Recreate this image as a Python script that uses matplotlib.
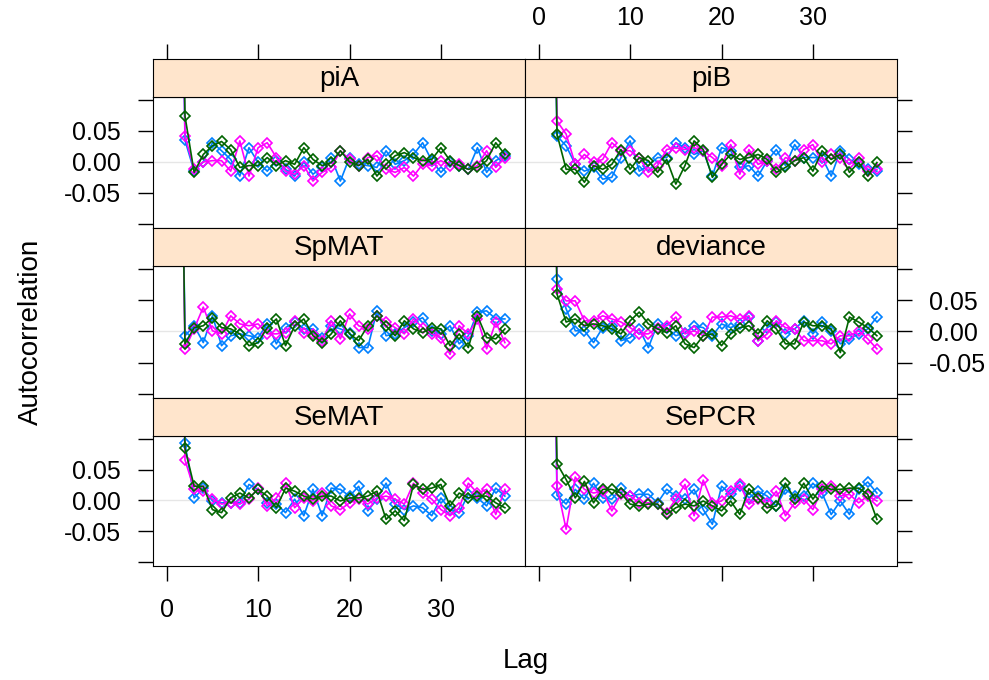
import matplotlib
matplotlib.use("Agg")
import matplotlib.pyplot as plt

plt.rcParams['font.family'] = ['Liberation Sans', 'DejaVu Sans']

# lag positions; the first lag is the lag-0 autocorrelation (1.0), off the panel
lags = list(range(1, 38))
acf_lag0 = 1.0

params = ['piA', 'piB', 'SpMAT', 'deviance', 'SeMAT', 'SePCR']
chain_colors = ['#0080ff', '#ff00ff', '#006400']

piA_blue = [0.035, -0.015, 0.0, 0.031, 0.018, 0.004, -0.023, 0.023, -0.001, -0.015, 0.002, -0.012,
            -0.023, 0.0, -0.02, -0.009, 0.007, -0.031, 0.007, -0.004, -0.006, -0.009, 0.018, -0.004,
            0.002, 0.012, 0.031, 0.002, -0.017, -0.001, -0.006, -0.012, 0.023, -0.017, 0.002, 0.01]
piA_magenta = [0.042, -0.012, 0.0, 0.002, 0.002, -0.015, 0.034, -0.023, 0.023, 0.031, 0.007, -0.015,
               -0.02, -0.006, -0.031, -0.017, -0.009, 0.018, 0.004, -0.006, 0.007, 0.01, -0.012, -0.017,
               -0.009, -0.023, -0.004, -0.006, 0.002, -0.006, -0.004, -0.012, -0.006, 0.018, -0.009, 0.007]
piA_green = [0.074, -0.017, 0.012, 0.026, 0.033, 0.02, -0.009, -0.006, -0.006, 0.007, -0.006, 0.002,
             -0.004, 0.023, 0.004, -0.006, -0.001, 0.018, 0.0, -0.006, 0.004, -0.023, -0.004, 0.01,
             0.015, 0.007, 0.002, 0.004, 0.023, 0.002, -0.006, -0.012, -0.009, 0.002, 0.031, 0.012]

piB_blue = [0.042, 0.026, -0.004, -0.015, -0.009, -0.028, -0.025, 0.007, 0.034, -0.015, -0.006, 0.007,
            0.007, 0.031, 0.023, 0.012, 0.018, -0.023, 0.023, 0.018, -0.009, -0.006, -0.023, 0.002,
            0.02, -0.006, 0.028, 0.007, 0.007, 0.007, -0.023, 0.018, 0.004, -0.004, -0.012, -0.015]
piB_magenta = [0.066, 0.045, -0.004, 0.012, -0.001, 0.004, 0.031, 0.018, 0.018, 0.007, -0.017, -0.006,
               0.02, 0.023, 0.02, 0.023, 0.018, 0.007, -0.006, 0.028, -0.02, 0.02, -0.004, 0.002,
               -0.012, 0.007, 0.002, 0.02, 0.028, -0.001, 0.012, 0.007, -0.004, 0.007, -0.015, -0.012]
piB_green = [0.045, -0.012, -0.012, -0.033, -0.006, -0.012, -0.004, 0.02, -0.012, 0.007, 0.002, -0.017,
             0.004, -0.036, -0.006, 0.034, 0.02, -0.025, -0.004, 0.012, 0.004, 0.007, 0.012, 0.004,
             -0.017, -0.009, 0.002, 0.007, -0.015, 0.018, 0.004, 0.012, -0.017, -0.001, -0.023, -0.001]

SpMAT_blue = [-0.007, 0.009, -0.018, 0.025, -0.023, -0.007, -0.004, -0.007, -0.01, 0.012, -0.02, 0.006,
              0.015, 0.004, 0.004, -0.01, 0.009, 0.004, -0.002, -0.026, -0.026, 0.033, -0.007, -0.004,
              0.006, 0.015, 0.022, 0.001, -0.004, 0.009, -0.02, -0.007, 0.031, 0.033, 0.02, 0.02]
SpMAT_magenta = [-0.028, 0.004, 0.039, 0.001, -0.004, 0.025, 0.012, 0.009, 0.012, -0.004, -0.004, -0.002,
                 0.017, -0.002, -0.004, -0.015, 0.017, -0.012, 0.028, 0.009, 0.004, 0.025, 0.015, 0.006,
                 -0.004, 0.02, 0.006, -0.004, -0.01, -0.037, 0.009, -0.004, 0.02, -0.028, 0.015, -0.018]
SpMAT_green = [-0.02, 0.006, 0.009, 0.022, 0.006, 0.004, -0.004, -0.023, -0.018, 0.006, 0.02, -0.023,
               0.009, 0.02, -0.007, -0.018, -0.004, 0.017, -0.004, -0.015, 0.009, 0.025, 0.009, -0.007,
               0.017, 0.004, -0.002, 0.006, 0.004, -0.023, -0.004, -0.026, 0.025, -0.01, -0.012, 0.004]

deviance_blue = [0.084, 0.036, 0.001, 0.001, -0.018, 0.006, 0.009, -0.015, -0.01, 0.004, -0.026, 0.012,
                 0.006, -0.007, -0.002, 0.009, 0.006, -0.007, 0.012, 0.006, 0.012, 0.023, -0.015, 0.006,
                 0.015, -0.004, 0.004, 0.017, -0.004, 0.015, 0.001, -0.02, -0.012, -0.004, 0.004, 0.023]
deviance_magenta = [0.068, 0.049, 0.049, 0.017, 0.017, 0.025, 0.02, 0.015, 0.006, -0.004, -0.004, 0.006,
                    0.009, 0.023, -0.004, 0.001, -0.007, 0.023, 0.023, 0.025, 0.02, 0.025, -0.015, -0.004,
                    0.017, 0.006, 0.004, -0.015, -0.015, -0.015, -0.02, -0.007, -0.007, 0.001, -0.012, -0.028]
deviance_green = [0.06, 0.015, 0.02, 0.009, 0.012, 0.009, 0.004, -0.004, 0.017, 0.031, 0.012, 0.004,
                  -0.002, 0.009, -0.02, -0.026, -0.007, -0.004, -0.023, -0.004, 0.006, 0.009, -0.004, 0.017,
                  0.004, -0.02, -0.02, 0.015, 0.009, 0.009, 0.004, -0.034, 0.023, 0.015, 0.006, -0.007]

SeMAT_blue = [0.093, 0.004, 0.02, -0.001, -0.004, -0.004, -0.004, 0.026, 0.018, -0.004, -0.006, -0.02,
              0.002, -0.025, 0.018, -0.025, 0.02, 0.018, 0.007, 0.023, -0.017, 0.002, 0.028, -0.006,
              -0.015, -0.009, -0.012, -0.025, 0.004, -0.015, -0.02, 0.01, 0.004, -0.009, 0.02, 0.007]
SeMAT_magenta = [0.066, 0.018, 0.015, 0.002, -0.006, -0.004, -0.006, 0.002, 0.02, -0.009, 0.004, 0.028,
                 -0.012, 0.004, -0.001, 0.012, -0.009, -0.015, -0.004, 0.002, -0.006, 0.004, 0.007, 0.002,
                 -0.006, 0.028, 0.012, 0.002, -0.015, -0.025, -0.012, 0.028, 0.012, 0.018, -0.023, 0.018]
SeMAT_green = [0.085, 0.023, 0.023, -0.015, -0.02, 0.004, 0.012, 0.004, 0.018, 0.007, -0.012, 0.02,
               0.015, 0.007, 0.002, 0.007, 0.007, -0.001, 0.004, 0.004, 0.007, 0.015, -0.031, -0.017,
               -0.033, 0.026, 0.018, 0.02, 0.026, -0.009, 0.012, 0.004, 0.007, 0.007, -0.004, -0.012]

SePCR_blue = [0.008, -0.006, 0.018, 0.002, 0.028, 0.004, 0.002, 0.02, 0.007, 0.01, 0.01, -0.004,
              0.018, 0.007, 0.002, 0.018, -0.015, -0.039, 0.023, 0.01, 0.023, 0.004, 0.015, 0.007,
              -0.009, 0.018, 0.007, 0.007, 0.028, 0.012, -0.023, -0.001, -0.023, 0.018, 0.03, 0.012]
SePCR_magenta = [0.023, -0.047, 0.038, 0.018, 0.012, 0.015, -0.017, 0.01, 0.007, -0.004, -0.004, -0.006,
                 -0.02, 0.002, 0.026, -0.025, 0.033, -0.004, -0.001, 0.015, 0.026, -0.006, 0.002, -0.004,
                 0.015, -0.025, -0.004, 0.002, -0.015, 0.018, 0.023, 0.007, 0.01, -0.004, 0.007, -0.001]
SePCR_green = [0.06, 0.034, 0.004, 0.031, -0.004, 0.018, 0.018, 0.012, -0.006, -0.009, -0.006, -0.006,
               -0.023, -0.012, -0.006, -0.009, -0.001, -0.009, -0.017, -0.001, -0.023, 0.019, 0.004, -0.012,
               -0.009, 0.028, 0.002, 0.028, 0.002, 0.023, 0.018, 0.018, 0.02, 0.02, 0.01, -0.031]

chains = {
    'piA': [piA_blue, piA_magenta, piA_green],
    'piB': [piB_blue, piB_magenta, piB_green],
    'SpMAT': [SpMAT_blue, SpMAT_magenta, SpMAT_green],
    'deviance': [deviance_blue, deviance_magenta, deviance_green],
    'SeMAT': [SeMAT_blue, SeMAT_magenta, SeMAT_green],
    'SePCR': [SePCR_blue, SePCR_magenta, SePCR_green],
}

xticks = [0, 10, 20, 30]
yticks = [-0.1, -0.05, 0.0, 0.05, 0.1]
ylabels = ['', '-0.05', '0.00', '0.05', '']

W, H = 989, 680
fig = plt.figure(figsize=(W / 100, H / 100), dpi=100)

col_x = [(153, 525), (525, 897)]
rows = [(59, 97, 228), (228, 266, 398), (398, 436, 566)]  # strip top, panel top, panel bottom
xlim = (-1.5, 39.2)
tick_kw = dict(direction='out', length=11, width=1, labelsize=18)

def fbox(x0, x1, ytop, ybot):
    return [x0 / W, 1 - ybot / H, (x1 - x0) / W, (ybot - ytop) / H]

for i, name in enumerate(params):
    r, c = divmod(i, 2)
    x0, x1 = col_x[c]
    stop, ptop, pbot = rows[r]

    ax = fig.add_axes(fbox(x0, x1, ptop, pbot))
    ax.axhline(0, color='#e6e6e6', lw=1, zorder=0)
    for vals, col in zip(chains[name], chain_colors):
        ax.plot(lags, [acf_lag0] + vals, color=col, lw=1.2, marker='D', ms=5.4,
                mfc='none', mec=col, mew=1.2)
    ax.set_xlim(*xlim)
    ax.set_ylim(-0.107, 0.105)
    ax.set_xticks(xticks)
    ax.set_yticks(yticks)
    ax.set_yticklabels(ylabels)
    ax.tick_params(**tick_kw)
    ax.tick_params(axis='x', top=False, bottom=(r == 2), labeltop=False,
                   labelbottom=(r == 2 and c == 0), pad=12)
    # y labels alternate between left and right
    ax.tick_params(axis='y', left=(c == 0), right=(c == 1),
                   labelleft=(c == 0 and r != 1), labelright=(c == 1 and r == 1), pad=12)

    sax = fig.add_axes(fbox(x0, x1, stop, ptop))
    sax.set_facecolor('#ffe5cc')
    sax.set_xlim(*xlim)
    sax.set_yticks([])
    sax.text(0.5, 0.47, name, ha='center', va='center', fontsize=20,
             transform=sax.transAxes)
    if r == 0:
        sax.set_xticks(xticks)
        sax.tick_params(**tick_kw)
        sax.tick_params(axis='x', top=True, bottom=False, labeltop=(c == 1),
                        labelbottom=False, pad=10)
    else:
        sax.set_xticks([])

fig.text(31 / W, 1 - 332 / H, 'Autocorrelation', rotation=90, ha='center', va='center', fontsize=20)
fig.text(526 / W, 1 - 661 / H, 'Lag', ha='center', va='center', fontsize=20)

fig.savefig('out.png', dpi=100)
